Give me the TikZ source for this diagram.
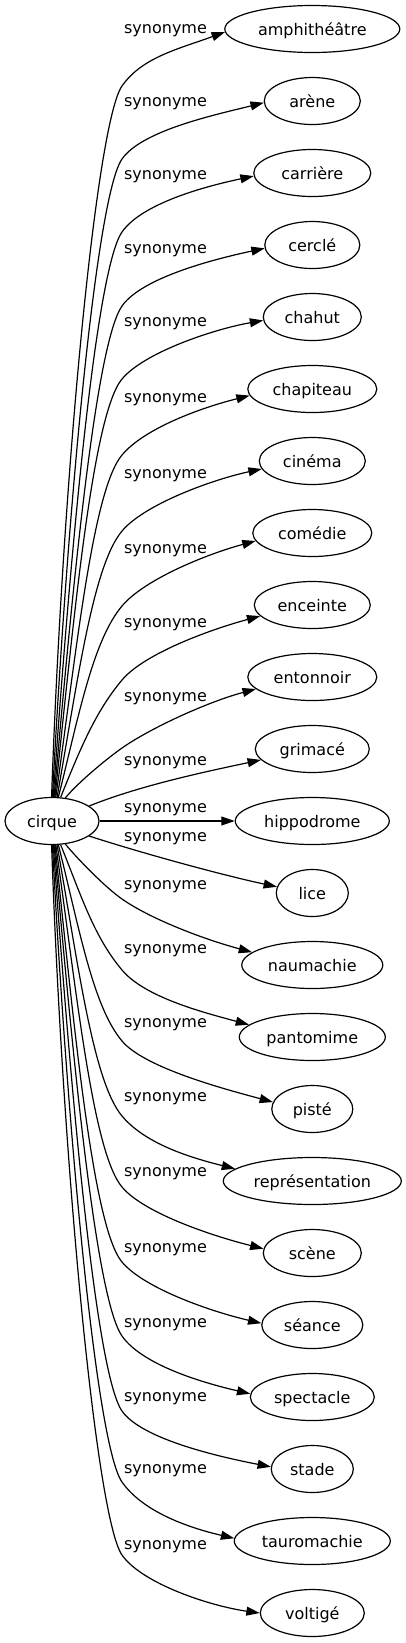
\documentclass[tikz,border=0pt]{standalone}
\usepackage{fontspec}
\setmainfont{DejaVu Sans}
\usetikzlibrary{shapes.geometric,arrows.meta,calc}
\tikzset{
  gnode/.style={ellipse, draw, line width=0.9pt, inner sep=0pt, minimum height=35.25pt, minimum width={#1*0.75pt}, font=\fontsize{12}{14}\selectfont, text height=9pt, text depth=0pt},
  lbl/.style={inner sep=0pt, font=\fontsize{12}{14}\selectfont},
  synarrow/.style={line width=0.9pt, -{Triangle[length=10pt,width=6.7pt]}},
}
% #1 target, #2 start anchor, #3 start dir, #4 start handle, #5 bend y (px, down),
% #6 dir at bend, #7 handle before bend, #8 arrival dir, #9 tip anchor
\newcommand\synedge[9]{%
  \coordinate (bend#1) at (122,-#5);
  \draw[synarrow] (cirque.#2) .. controls ($(cirque.#2)+(#3:#4)$) and ($(bend#1)+(#6+180:#7)$) .. (bend#1)
     .. controls ($(bend#1)+(#6:35)$) and ($(#1.#9)+(#8+180:50)$) .. (#1.#9);
}
\begin{document}
\begin{tikzpicture}[x=0.75pt,y=0.75pt]
\useasboundingbox (0,0) rectangle (406,-1643);
\node[gnode=94] (cirque) at (52,-821) {cirque};
\node[gnode=175] (amphi) at (312.3,-29) {amphithéâtre};
\node[gnode=96] (arene) at (312.3,-101) {arène};
\node[gnode=117] (carriere) at (312.3,-173) {carrière};
\node[gnode=95] (cercle) at (312.3,-245) {cerclé};
\node[gnode=98] (chahut) at (312.3,-317) {chahut};
\node[gnode=129] (chapiteau) at (312.3,-389) {chapiteau};
\node[gnode=106] (cinema) at (312.3,-461) {cinéma};
\node[gnode=119] (comedie) at (312.3,-533) {comédie};
\node[gnode=116] (enceinte) at (312.3,-605) {enceinte};
\node[gnode=129] (entonnoir) at (312.3,-677) {entonnoir};
\node[gnode=114] (grimace) at (312.3,-749) {grimacé};
\node[gnode=154] (hippodrome) at (312.3,-821) {hippodrome};
\node[gnode=72] (lice) at (312.3,-893) {lice};
\node[gnode=141] (naumachie) at (312.3,-965) {naumachie};
\node[gnode=146] (pantomime) at (312.3,-1037) {pantomime};
\node[gnode=81] (piste) at (312.3,-1109) {pisté};
\node[gnode=178] (representation) at (312.3,-1181) {représentation};
\node[gnode=98] (scene) at (312.3,-1253) {scène};
\node[gnode=101] (seance) at (312.3,-1325) {séance};
\node[gnode=124] (spectacle) at (312.3,-1397) {spectacle};
\node[gnode=82] (stade) at (312.3,-1469) {stade};
\node[gnode=156] (tauromachie) at (312.3,-1541) {tauromachie};
\node[gnode=104] (voltige) at (312.3,-1613) {voltigé};

\node[lbl] (l0) at (165.5,-31) {synonyme};
\node[lbl] (l1) at (165.5,-104) {synonyme};
\node[lbl] (l2) at (165.5,-177) {synonyme};
\node[lbl] (l3) at (165.5,-251) {synonyme};
\node[lbl] (l4) at (165.5,-324) {synonyme};
\node[lbl] (l5) at (165.5,-400) {synonyme};
\node[lbl] (l6) at (165.5,-476) {synonyme};
\node[lbl] (l7) at (165.5,-551) {synonyme};
\node[lbl] (l8) at (165.5,-625) {synonyme};
\node[lbl] (l9) at (165.5,-699) {synonyme};
\node[lbl] (l10) at (165.5,-763) {synonyme};
\node[lbl] (l11) at (165.5,-810) {synonyme};
\node[lbl] (l12) at (165.5,-839) {synonyme};
\node[lbl] (l13) at (165.5,-887) {synonyme};
\node[lbl] (l14) at (165.5,-951) {synonyme};
\node[lbl] (l15) at (165.5,-1025) {synonyme};
\node[lbl] (l16) at (165.5,-1099) {synonyme};
\node[lbl] (l17) at (165.5,-1174) {synonyme};
\node[lbl] (l18) at (165.5,-1250) {synonyme};
\node[lbl] (l19) at (165.5,-1325) {synonyme};
\node[lbl] (l20) at (165.5,-1399) {synonyme};
\node[lbl] (l21) at (165.5,-1471) {synonyme};
\node[lbl] (l22) at (165.5,-1547) {synonyme};

\synedge{amphi}{91}{88}{320}{86}{55}{45}{20}{182}
\synedge{arene}{89}{87}{287}{159}{55}{45}{14}{182}
\synedge{carriere}{87}{86}{254}{232}{55}{45}{12}{183}
\synedge{cercle}{85}{85}{221}{306}{55}{45}{12}{184}
\synedge{chahut}{83}{84}{188}{379}{50}{45}{10}{184}
\synedge{chapiteau}{81}{82}{154}{455}{50}{45}{14}{186}
\synedge{cinema}{78}{80}{120}{531}{50}{45}{12}{189}
\synedge{comedie}{75}{76}{86}{606}{50}{45}{15}{188}
\synedge{enceinte}{70}{68}{53}{680}{50}{41}{15}{192}
\synedge{entonnoir}{60}{50}{22}{748}{35}{17}{15}{192}
\draw[synarrow] (cirque.22) .. controls ($(cirque.22)+(22:55)$) and ($(grimace.192)+(192:55)$) .. (grimace.192);
\draw[synarrow] (cirque.east) -- (hippodrome.west);
\draw[synarrow] (cirque.338) .. controls ($(cirque.338)+(-18:55)$) and ($(lice.170)+(168:55)$) .. (lice.170);
\synedge{naumachie}{300}{-50}{24}{899}{-35}{19}{-15}{168}
\synedge{pantomime}{290}{-68}{56}{970}{-50}{44}{-15}{169}
\synedge{piste}{285}{-76}{88}{1041}{-50}{45}{-15}{170}
\synedge{representation}{282}{-80}{122}{1116}{-50}{45}{-14}{171}
\synedge{scene}{279}{-82}{154}{1187}{-50}{45}{-14}{175}
\synedge{seance}{277}{-84}{188}{1262}{-50}{45}{-13}{178}
\synedge{spectacle}{275}{-85}{221}{1336}{-55}{45}{-13}{177}
\synedge{stade}{273}{-86}{255}{1411}{-55}{45}{-11}{177}
\synedge{tauromachie}{271}{-87}{287}{1482}{-55}{45}{-13}{178}
\synedge{voltige}{269}{-88}{320}{1555}{-55}{45}{-8}{180}
\end{tikzpicture}
\end{document}
